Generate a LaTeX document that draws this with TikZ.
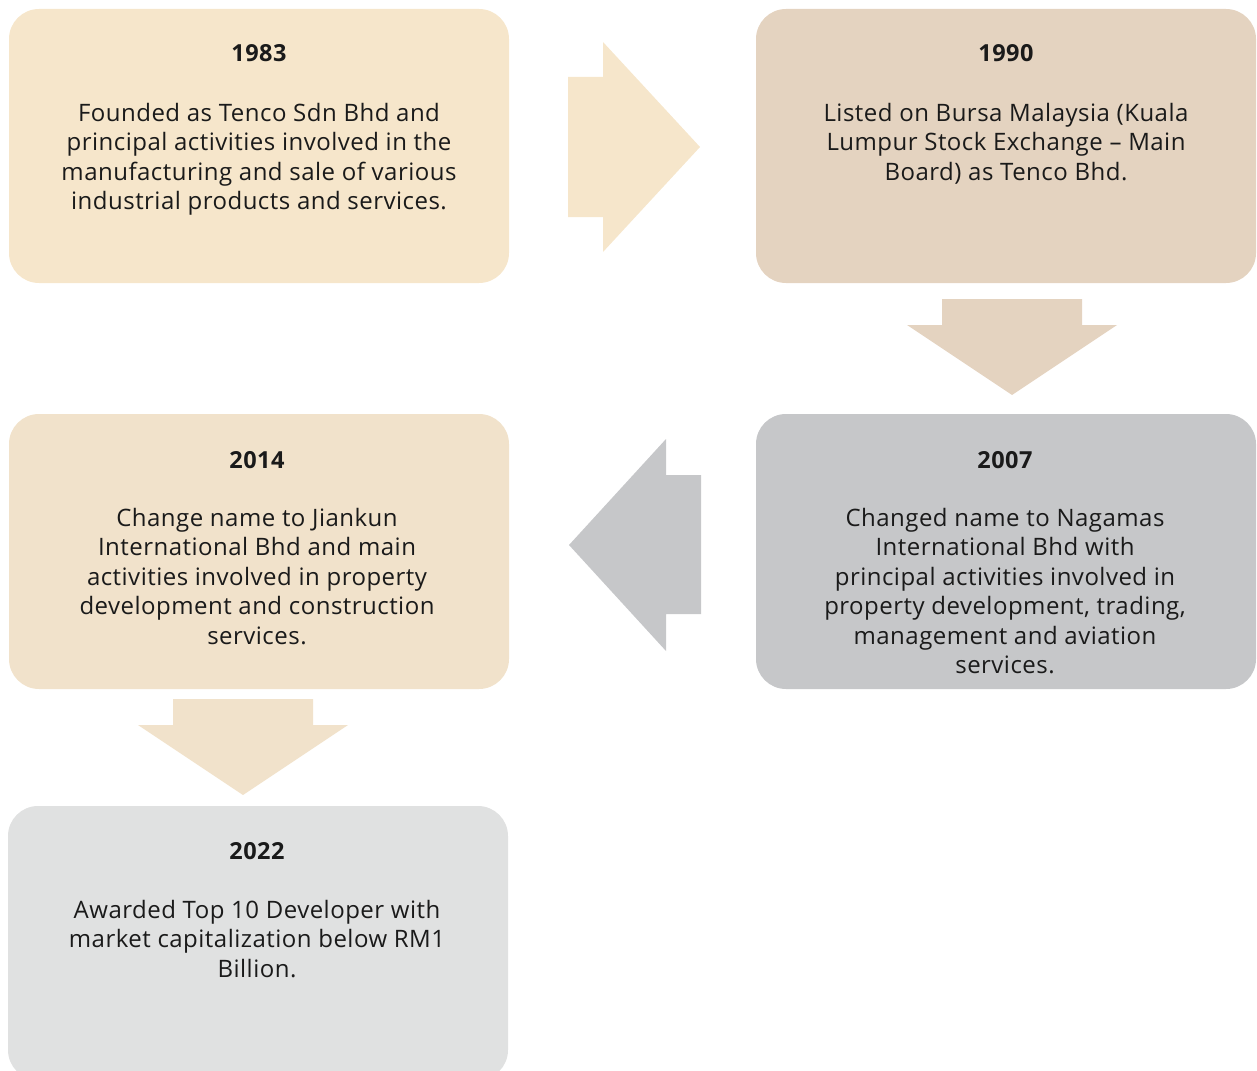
\documentclass[tikz,border=0pt]{standalone}
\usepackage{fontspec}
\setmainfont{Open Sans}[LetterSpace=2]
\definecolor{cA}{HTML}{F6E6CB}
\definecolor{cB}{HTML}{E4D3C0}
\definecolor{cC}{HTML}{F1E2CB}
\definecolor{cD}{HTML}{C6C7C9}
\definecolor{cE}{HTML}{E0E1E1}
\definecolor{ink}{HTML}{1A1A1A}
\begin{document}
\begin{tikzpicture}[x=1pt,y=-1pt,
  card/.style={rounded corners=30pt, minimum width=500pt, inner sep=0pt, draw=none},
  yeartxt/.style={anchor=base, font=\fontsize{23.5}{27}\selectfont\bfseries, text=ink, inner sep=0pt},
  bodytxt/.style={anchor=base, align=center, font=\fontsize{24}{29.5}\selectfont, text=ink, inner sep=0pt}]
\useasboundingbox (0,0) rectangle (1257,1070);
\begin{scope}
\clip (0,0) rectangle (1257,1070);
% cards
\node[card, fill=cA, minimum height=274pt] (b1) at (259,146) {};
\node[card, fill=cB, minimum height=274pt] (b2) at (1006,146) {};
\node[card, fill=cC, minimum height=275pt] (b3) at (259,551.5) {};
\node[card, fill=cD, minimum height=275pt] (b4) at (1006,551.5) {};
\node[card, fill=cE, minimum height=274pt] (b5) at (258,943) {};
% arrows
\fill[cA] (568,77) -- (603,77) -- (603,42) -- (700,147) -- (603,252) -- (603,217) -- (568,217) -- cycle;
\fill[cB] (942,299) -- (1082,299) -- (1082,325) -- (1117,325) -- (1012,395) -- (907,325) -- (942,325) -- cycle;
\fill[cD] (701,475) -- (666,475) -- (666,439) -- (569,545) -- (666,651) -- (666,614) -- (701,614) -- cycle;
\fill[cC] (173,699) -- (313,699) -- (313,725) -- (348,725) -- (243,795) -- (138,725) -- (173,725) -- cycle;
\end{scope}
% texts (base anchor = baseline of last line)
\node[yeartxt] (y1) at (259,62) {1983};
\node[bodytxt] (t1) at (259,209.5) {Founded as Tenco Sdn Bhd and\\principal activities involved in the\\manufacturing and sale of various\\industrial products and services.};
\node[yeartxt] (y2) at (1006,62) {1990};
\node[bodytxt] (t2) at (1006,180) {Listed on Bursa Malaysia (Kuala\\Lumpur Stock Exchange -- Main\\Board) as Tenco Bhd.};
\node[yeartxt] (y3) at (257,468) {2014};
\node[bodytxt] (t3) at (257,644) {Change name to Jiankun\\International Bhd and main\\activities involved in property\\development and construction\\services.};
\node[yeartxt] (y4) at (1005,468) {2007};
\node[bodytxt] (t4) at (1005,673.5) {Changed name to Nagamas\\International Bhd with\\principal activities involved in\\property development, trading,\\management and aviation\\services.};
\node[yeartxt] (y5) at (257,859) {2022};
\node[bodytxt] (t5) at (257,977) {Awarded Top 10 Developer with\\market capitalization below RM1\\Billion.};
\end{tikzpicture}
\end{document}
